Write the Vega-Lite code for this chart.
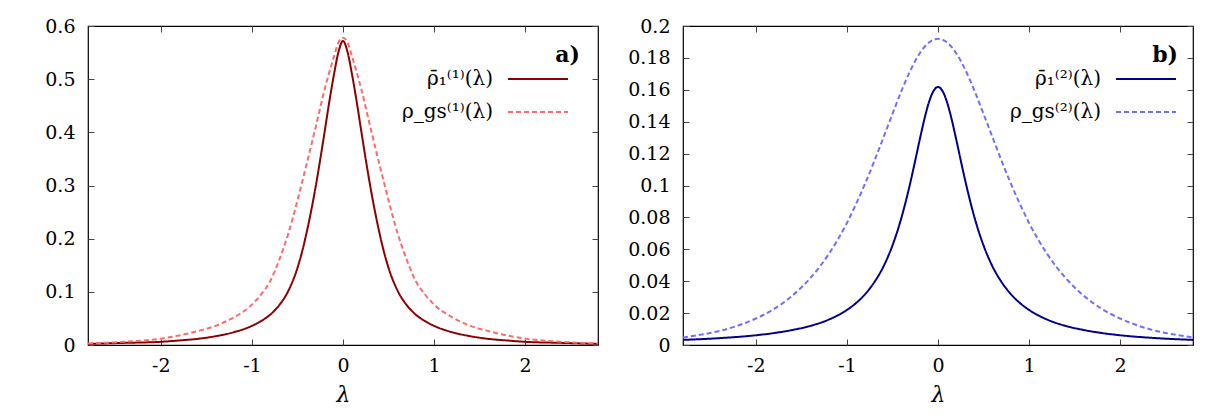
{
  "$schema": "https://vega.github.io/schema/vega-lite/v6.json",
  "autosize": {"type": "pad"},
  "padding": {"left": 44, "top": 16, "right": 5, "bottom": 5},
  "background": "white",
  "config": {
    "font": "DejaVu Serif",
    "view": {"stroke": "black", "strokeWidth": 1.2},
    "axis": {"grid": false, "domain": false, "tickColor": "#444", "tickSize": -6, "tickWidth": 1},
    "title": {"font": "DejaVu Serif", "fontSize": 22, "fontWeight": "bold", "color": "black", "anchor": "end", "frame": "group"}
  },
  "bounds": "flush",
  "spacing": 85,
  "resolve": {"scale": {"color": "independent", "strokeDash": "independent"}},
  "hconcat": [
    {
      "width": 510,
      "height": 319,
      "title": {"text": "a)", "offset": -50, "dx": -18},
      "data": {"values": [
        {"s": "ρ̄₁⁽¹⁾(λ)", "l": -2.8, "r": 0.002}, {"s": "ρ̄₁⁽¹⁾(λ)", "l": -2.4, "r": 0.004}, {"s": "ρ̄₁⁽¹⁾(λ)", "l": -2.0, "r": 0.006}, {"s": "ρ̄₁⁽¹⁾(λ)", "l": -1.8, "r": 0.0085}, {"s": "ρ̄₁⁽¹⁾(λ)", "l": -1.6, "r": 0.0115}, {"s": "ρ̄₁⁽¹⁾(λ)", "l": -1.4, "r": 0.0165}, {"s": "ρ̄₁⁽¹⁾(λ)", "l": -1.2, "r": 0.024}, {"s": "ρ̄₁⁽¹⁾(λ)", "l": -1.0, "r": 0.036}, {"s": "ρ̄₁⁽¹⁾(λ)", "l": -0.9, "r": 0.045}, {"s": "ρ̄₁⁽¹⁾(λ)", "l": -0.8, "r": 0.057}, {"s": "ρ̄₁⁽¹⁾(λ)", "l": -0.7, "r": 0.075}, {"s": "ρ̄₁⁽¹⁾(λ)", "l": -0.6, "r": 0.102}, {"s": "ρ̄₁⁽¹⁾(λ)", "l": -0.5, "r": 0.145}, {"s": "ρ̄₁⁽¹⁾(λ)", "l": -0.45, "r": 0.175}, {"s": "ρ̄₁⁽¹⁾(λ)", "l": -0.4, "r": 0.211}, {"s": "ρ̄₁⁽¹⁾(λ)", "l": -0.35, "r": 0.252}, {"s": "ρ̄₁⁽¹⁾(λ)", "l": -0.3, "r": 0.298}, {"s": "ρ̄₁⁽¹⁾(λ)", "l": -0.25, "r": 0.349}, {"s": "ρ̄₁⁽¹⁾(λ)", "l": -0.2, "r": 0.403}, {"s": "ρ̄₁⁽¹⁾(λ)", "l": -0.15, "r": 0.458}, {"s": "ρ̄₁⁽¹⁾(λ)", "l": -0.1, "r": 0.508}, {"s": "ρ̄₁⁽¹⁾(λ)", "l": -0.05, "r": 0.551}, {"s": "ρ̄₁⁽¹⁾(λ)", "l": 0, "r": 0.572}, {"s": "ρ̄₁⁽¹⁾(λ)", "l": 0.05, "r": 0.551}, {"s": "ρ̄₁⁽¹⁾(λ)", "l": 0.1, "r": 0.508}, {"s": "ρ̄₁⁽¹⁾(λ)", "l": 0.15, "r": 0.458}, {"s": "ρ̄₁⁽¹⁾(λ)", "l": 0.2, "r": 0.403}, {"s": "ρ̄₁⁽¹⁾(λ)", "l": 0.25, "r": 0.349}, {"s": "ρ̄₁⁽¹⁾(λ)", "l": 0.3, "r": 0.298}, {"s": "ρ̄₁⁽¹⁾(λ)", "l": 0.35, "r": 0.252}, {"s": "ρ̄₁⁽¹⁾(λ)", "l": 0.4, "r": 0.211}, {"s": "ρ̄₁⁽¹⁾(λ)", "l": 0.45, "r": 0.175}, {"s": "ρ̄₁⁽¹⁾(λ)", "l": 0.5, "r": 0.145}, {"s": "ρ̄₁⁽¹⁾(λ)", "l": 0.6, "r": 0.102}, {"s": "ρ̄₁⁽¹⁾(λ)", "l": 0.7, "r": 0.075}, {"s": "ρ̄₁⁽¹⁾(λ)", "l": 0.8, "r": 0.057}, {"s": "ρ̄₁⁽¹⁾(λ)", "l": 0.9, "r": 0.045}, {"s": "ρ̄₁⁽¹⁾(λ)", "l": 1.0, "r": 0.036}, {"s": "ρ̄₁⁽¹⁾(λ)", "l": 1.2, "r": 0.024}, {"s": "ρ̄₁⁽¹⁾(λ)", "l": 1.4, "r": 0.0165}, {"s": "ρ̄₁⁽¹⁾(λ)", "l": 1.6, "r": 0.0115}, {"s": "ρ̄₁⁽¹⁾(λ)", "l": 1.8, "r": 0.0085}, {"s": "ρ̄₁⁽¹⁾(λ)", "l": 2.0, "r": 0.006}, {"s": "ρ̄₁⁽¹⁾(λ)", "l": 2.4, "r": 0.004}, {"s": "ρ̄₁⁽¹⁾(λ)", "l": 2.8, "r": 0.002},
        {"s": "ρ_gs⁽¹⁾(λ)", "l": -2.8, "r": 0.003}, {"s": "ρ_gs⁽¹⁾(λ)", "l": -2.4, "r": 0.006}, {"s": "ρ_gs⁽¹⁾(λ)", "l": -2.0, "r": 0.012}, {"s": "ρ_gs⁽¹⁾(λ)", "l": -1.8, "r": 0.018}, {"s": "ρ_gs⁽¹⁾(λ)", "l": -1.6, "r": 0.026}, {"s": "ρ_gs⁽¹⁾(λ)", "l": -1.4, "r": 0.036}, {"s": "ρ_gs⁽¹⁾(λ)", "l": -1.2, "r": 0.052}, {"s": "ρ_gs⁽¹⁾(λ)", "l": -1.0, "r": 0.076}, {"s": "ρ_gs⁽¹⁾(λ)", "l": -0.9, "r": 0.095}, {"s": "ρ_gs⁽¹⁾(λ)", "l": -0.8, "r": 0.120}, {"s": "ρ_gs⁽¹⁾(λ)", "l": -0.7, "r": 0.160}, {"s": "ρ_gs⁽¹⁾(λ)", "l": -0.6, "r": 0.210}, {"s": "ρ_gs⁽¹⁾(λ)", "l": -0.5, "r": 0.272}, {"s": "ρ_gs⁽¹⁾(λ)", "l": -0.4, "r": 0.340}, {"s": "ρ_gs⁽¹⁾(λ)", "l": -0.3, "r": 0.410}, {"s": "ρ_gs⁽¹⁾(λ)", "l": -0.2, "r": 0.482}, {"s": "ρ_gs⁽¹⁾(λ)", "l": -0.1, "r": 0.542}, {"s": "ρ_gs⁽¹⁾(λ)", "l": -0.05, "r": 0.569}, {"s": "ρ_gs⁽¹⁾(λ)", "l": 0, "r": 0.578}, {"s": "ρ_gs⁽¹⁾(λ)", "l": 0.05, "r": 0.569}, {"s": "ρ_gs⁽¹⁾(λ)", "l": 0.1, "r": 0.542}, {"s": "ρ_gs⁽¹⁾(λ)", "l": 0.2, "r": 0.482}, {"s": "ρ_gs⁽¹⁾(λ)", "l": 0.3, "r": 0.410}, {"s": "ρ_gs⁽¹⁾(λ)", "l": 0.4, "r": 0.340}, {"s": "ρ_gs⁽¹⁾(λ)", "l": 0.5, "r": 0.272}, {"s": "ρ_gs⁽¹⁾(λ)", "l": 0.6, "r": 0.210}, {"s": "ρ_gs⁽¹⁾(λ)", "l": 0.7, "r": 0.160}, {"s": "ρ_gs⁽¹⁾(λ)", "l": 0.8, "r": 0.120}, {"s": "ρ_gs⁽¹⁾(λ)", "l": 0.9, "r": 0.095}, {"s": "ρ_gs⁽¹⁾(λ)", "l": 1.0, "r": 0.076}, {"s": "ρ_gs⁽¹⁾(λ)", "l": 1.2, "r": 0.052}, {"s": "ρ_gs⁽¹⁾(λ)", "l": 1.4, "r": 0.036}, {"s": "ρ_gs⁽¹⁾(λ)", "l": 1.6, "r": 0.026}, {"s": "ρ_gs⁽¹⁾(λ)", "l": 1.8, "r": 0.018}, {"s": "ρ_gs⁽¹⁾(λ)", "l": 2.0, "r": 0.012}, {"s": "ρ_gs⁽¹⁾(λ)", "l": 2.4, "r": 0.006}, {"s": "ρ_gs⁽¹⁾(λ)", "l": 2.8, "r": 0.003}
      ]},
      "layer": [
        {
          "mark": {"type": "line", "interpolate": "monotone", "strokeWidth": 2},
          "encoding": {
            "x": {"field": "l", "type": "quantitative", "scale": {"domain": [-2.8, 2.8], "nice": false, "zero": false}, "axis": {"title": "λ", "values": [-2, -1, 0, 1, 2], "labelExpr": "replace(datum.label, '−', '-')", "labelPadding": 17, "titlePadding": 9, "labelFont": "DejaVu Serif", "labelFontSize": 19, "labelColor": "black", "titleFont": "DejaVu Serif", "titleFontSize": 22, "titleFontWeight": "normal", "titleFontStyle": "italic", "titleColor": "black"}},
            "y": {"field": "r", "type": "quantitative", "scale": {"domain": [0, 0.6], "nice": false}, "axis": {"title": null, "values": [0, 0.1, 0.2, 0.3, 0.4, 0.5, 0.6], "format": "~g", "labelPadding": 19, "labelFont": "DejaVu Serif", "labelFontSize": 19, "labelColor": "black"}},
            "color": {"field": "s", "type": "nominal", "scale": {"domain": ["ρ̄₁⁽¹⁾(λ)", "ρ_gs⁽¹⁾(λ)"], "range": ["#8b0000", "#ff6b6b"]}, "legend": {"orient": "none", "legendX": 439, "legendY": 42, "title": null, "symbolType": "M-3,0H3", "symbolSize": 400, "symbolStrokeWidth": 2, "labelFont": "DejaVu Serif", "labelFontSize": 20, "labelColor": "black", "labelAlign": "right", "labelOffset": -56, "rowPadding": 12}},
            "strokeDash": {"field": "s", "type": "nominal", "scale": {"domain": ["ρ̄₁⁽¹⁾(λ)", "ρ_gs⁽¹⁾(λ)"], "range": [[1, 0], [5, 3]]}, "legend": {"orient": "none", "legendX": 439, "legendY": 42, "title": null, "symbolType": "M-3,0H3", "symbolSize": 400, "symbolStrokeWidth": 2, "labelFont": "DejaVu Serif", "labelFontSize": 20, "labelColor": "black", "labelAlign": "right", "labelOffset": -56, "rowPadding": 12}}
          }
        },
        {
          "mark": {"type": "line", "opacity": 0},
          "encoding": {
            "x": {"field": "l", "type": "quantitative", "axis": {"orient": "top", "labels": false, "title": null, "values": [-2, -1, 0, 1, 2]}},
            "y": {"field": "r", "type": "quantitative", "axis": {"orient": "right", "labels": false, "title": null, "values": [0, 0.1, 0.2, 0.3, 0.4, 0.5, 0.6]}}
          }
        }
      ],
      "resolve": {"axis": {"x": "independent", "y": "independent"}}
    },
    {
      "width": 510,
      "height": 319,
      "title": {"text": "b)", "offset": -50, "dx": -15},
      "data": {"values": [
        {"s": "ρ̄₁⁽²⁾(λ)", "l": -2.8, "r": 0.0032}, {"s": "ρ̄₁⁽²⁾(λ)", "l": -2.4, "r": 0.0043}, {"s": "ρ̄₁⁽²⁾(λ)", "l": -2.0, "r": 0.0061}, {"s": "ρ̄₁⁽²⁾(λ)", "l": -1.8, "r": 0.0075}, {"s": "ρ̄₁⁽²⁾(λ)", "l": -1.6, "r": 0.0094}, {"s": "ρ̄₁⁽²⁾(λ)", "l": -1.4, "r": 0.012}, {"s": "ρ̄₁⁽²⁾(λ)", "l": -1.2, "r": 0.0159}, {"s": "ρ̄₁⁽²⁾(λ)", "l": -1.0, "r": 0.022}, {"s": "ρ̄₁⁽²⁾(λ)", "l": -0.9, "r": 0.0263}, {"s": "ρ̄₁⁽²⁾(λ)", "l": -0.8, "r": 0.0319}, {"s": "ρ̄₁⁽²⁾(λ)", "l": -0.7, "r": 0.0393}, {"s": "ρ̄₁⁽²⁾(λ)", "l": -0.6, "r": 0.0491}, {"s": "ρ̄₁⁽²⁾(λ)", "l": -0.5, "r": 0.0624}, {"s": "ρ̄₁⁽²⁾(λ)", "l": -0.4, "r": 0.0801}, {"s": "ρ̄₁⁽²⁾(λ)", "l": -0.35, "r": 0.0909}, {"s": "ρ̄₁⁽²⁾(λ)", "l": -0.3, "r": 0.1028}, {"s": "ρ̄₁⁽²⁾(λ)", "l": -0.25, "r": 0.1157}, {"s": "ρ̄₁⁽²⁾(λ)", "l": -0.2, "r": 0.1289}, {"s": "ρ̄₁⁽²⁾(λ)", "l": -0.15, "r": 0.1415}, {"s": "ρ̄₁⁽²⁾(λ)", "l": -0.1, "r": 0.1521}, {"s": "ρ̄₁⁽²⁾(λ)", "l": -0.05, "r": 0.1592}, {"s": "ρ̄₁⁽²⁾(λ)", "l": 0, "r": 0.1618}, {"s": "ρ̄₁⁽²⁾(λ)", "l": 0.05, "r": 0.1592}, {"s": "ρ̄₁⁽²⁾(λ)", "l": 0.1, "r": 0.1521}, {"s": "ρ̄₁⁽²⁾(λ)", "l": 0.15, "r": 0.1415}, {"s": "ρ̄₁⁽²⁾(λ)", "l": 0.2, "r": 0.1289}, {"s": "ρ̄₁⁽²⁾(λ)", "l": 0.25, "r": 0.1157}, {"s": "ρ̄₁⁽²⁾(λ)", "l": 0.3, "r": 0.1028}, {"s": "ρ̄₁⁽²⁾(λ)", "l": 0.35, "r": 0.0909}, {"s": "ρ̄₁⁽²⁾(λ)", "l": 0.4, "r": 0.0801}, {"s": "ρ̄₁⁽²⁾(λ)", "l": 0.5, "r": 0.0624}, {"s": "ρ̄₁⁽²⁾(λ)", "l": 0.6, "r": 0.0491}, {"s": "ρ̄₁⁽²⁾(λ)", "l": 0.7, "r": 0.0393}, {"s": "ρ̄₁⁽²⁾(λ)", "l": 0.8, "r": 0.0319}, {"s": "ρ̄₁⁽²⁾(λ)", "l": 0.9, "r": 0.0263}, {"s": "ρ̄₁⁽²⁾(λ)", "l": 1.0, "r": 0.022}, {"s": "ρ̄₁⁽²⁾(λ)", "l": 1.2, "r": 0.0159}, {"s": "ρ̄₁⁽²⁾(λ)", "l": 1.4, "r": 0.012}, {"s": "ρ̄₁⁽²⁾(λ)", "l": 1.6, "r": 0.0094}, {"s": "ρ̄₁⁽²⁾(λ)", "l": 1.8, "r": 0.0075}, {"s": "ρ̄₁⁽²⁾(λ)", "l": 2.0, "r": 0.0061}, {"s": "ρ̄₁⁽²⁾(λ)", "l": 2.4, "r": 0.0043}, {"s": "ρ̄₁⁽²⁾(λ)", "l": 2.8, "r": 0.0032},
        {"s": "ρ_gs⁽²⁾(λ)", "l": -2.8, "r": 0.0047}, {"s": "ρ_gs⁽²⁾(λ)", "l": -2.6, "r": 0.0065}, {"s": "ρ_gs⁽²⁾(λ)", "l": -2.4, "r": 0.0088}, {"s": "ρ_gs⁽²⁾(λ)", "l": -2.2, "r": 0.0121}, {"s": "ρ_gs⁽²⁾(λ)", "l": -2.0, "r": 0.0166}, {"s": "ρ_gs⁽²⁾(λ)", "l": -1.8, "r": 0.0226}, {"s": "ρ_gs⁽²⁾(λ)", "l": -1.6, "r": 0.0309}, {"s": "ρ_gs⁽²⁾(λ)", "l": -1.4, "r": 0.0421}, {"s": "ρ_gs⁽²⁾(λ)", "l": -1.2, "r": 0.057}, {"s": "ρ_gs⁽²⁾(λ)", "l": -1.0, "r": 0.0765}, {"s": "ρ_gs⁽²⁾(λ)", "l": -0.9, "r": 0.0884}, {"s": "ρ_gs⁽²⁾(λ)", "l": -0.8, "r": 0.1012}, {"s": "ρ_gs⁽²⁾(λ)", "l": -0.7, "r": 0.1152}, {"s": "ρ_gs⁽²⁾(λ)", "l": -0.6, "r": 0.13}, {"s": "ρ_gs⁽²⁾(λ)", "l": -0.5, "r": 0.1449}, {"s": "ρ_gs⁽²⁾(λ)", "l": -0.4, "r": 0.1595}, {"s": "ρ_gs⁽²⁾(λ)", "l": -0.3, "r": 0.1725}, {"s": "ρ_gs⁽²⁾(λ)", "l": -0.2, "r": 0.1829}, {"s": "ρ_gs⁽²⁾(λ)", "l": -0.1, "r": 0.1897}, {"s": "ρ_gs⁽²⁾(λ)", "l": 0, "r": 0.192}, {"s": "ρ_gs⁽²⁾(λ)", "l": 0.1, "r": 0.1897}, {"s": "ρ_gs⁽²⁾(λ)", "l": 0.2, "r": 0.1829}, {"s": "ρ_gs⁽²⁾(λ)", "l": 0.3, "r": 0.1725}, {"s": "ρ_gs⁽²⁾(λ)", "l": 0.4, "r": 0.1595}, {"s": "ρ_gs⁽²⁾(λ)", "l": 0.5, "r": 0.1449}, {"s": "ρ_gs⁽²⁾(λ)", "l": 0.6, "r": 0.13}, {"s": "ρ_gs⁽²⁾(λ)", "l": 0.7, "r": 0.1152}, {"s": "ρ_gs⁽²⁾(λ)", "l": 0.8, "r": 0.1012}, {"s": "ρ_gs⁽²⁾(λ)", "l": 0.9, "r": 0.0884}, {"s": "ρ_gs⁽²⁾(λ)", "l": 1.0, "r": 0.0765}, {"s": "ρ_gs⁽²⁾(λ)", "l": 1.2, "r": 0.057}, {"s": "ρ_gs⁽²⁾(λ)", "l": 1.4, "r": 0.0421}, {"s": "ρ_gs⁽²⁾(λ)", "l": 1.6, "r": 0.0309}, {"s": "ρ_gs⁽²⁾(λ)", "l": 1.8, "r": 0.0226}, {"s": "ρ_gs⁽²⁾(λ)", "l": 2.0, "r": 0.0166}, {"s": "ρ_gs⁽²⁾(λ)", "l": 2.2, "r": 0.0121}, {"s": "ρ_gs⁽²⁾(λ)", "l": 2.4, "r": 0.0088}, {"s": "ρ_gs⁽²⁾(λ)", "l": 2.6, "r": 0.0065}, {"s": "ρ_gs⁽²⁾(λ)", "l": 2.8, "r": 0.0047}
      ]},
      "layer": [
        {
          "mark": {"type": "line", "interpolate": "monotone", "strokeWidth": 2},
          "encoding": {
            "x": {"field": "l", "type": "quantitative", "scale": {"domain": [-2.8, 2.8], "nice": false, "zero": false}, "axis": {"title": "λ", "values": [-2, -1, 0, 1, 2], "labelExpr": "replace(datum.label, '−', '-')", "labelPadding": 17, "titlePadding": 9, "labelFont": "DejaVu Serif", "labelFontSize": 19, "labelColor": "black", "titleFont": "DejaVu Serif", "titleFontSize": 22, "titleFontWeight": "normal", "titleFontStyle": "italic", "titleColor": "black"}},
            "y": {"field": "r", "type": "quantitative", "scale": {"domain": [0, 0.2], "nice": false}, "axis": {"title": null, "values": [0, 0.02, 0.04, 0.06, 0.08, 0.1, 0.12, 0.14, 0.16, 0.18, 0.2], "format": "~g", "labelPadding": 19, "labelFont": "DejaVu Serif", "labelFontSize": 19, "labelColor": "black"}},
            "color": {"field": "s", "type": "nominal", "scale": {"domain": ["ρ̄₁⁽²⁾(λ)", "ρ_gs⁽²⁾(λ)"], "range": ["#00008b", "#7070ff"]}, "legend": {"orient": "none", "legendX": 452, "legendY": 42, "title": null, "symbolType": "M-3,0H3", "symbolSize": 400, "symbolStrokeWidth": 2, "labelFont": "DejaVu Serif", "labelFontSize": 20, "labelColor": "black", "labelAlign": "right", "labelOffset": -56, "rowPadding": 12}},
            "strokeDash": {"field": "s", "type": "nominal", "scale": {"domain": ["ρ̄₁⁽²⁾(λ)", "ρ_gs⁽²⁾(λ)"], "range": [[1, 0], [5, 3]]}, "legend": {"orient": "none", "legendX": 452, "legendY": 42, "title": null, "symbolType": "M-3,0H3", "symbolSize": 400, "symbolStrokeWidth": 2, "labelFont": "DejaVu Serif", "labelFontSize": 20, "labelColor": "black", "labelAlign": "right", "labelOffset": -56, "rowPadding": 12}}
          }
        },
        {
          "mark": {"type": "line", "opacity": 0},
          "encoding": {
            "x": {"field": "l", "type": "quantitative", "axis": {"orient": "top", "labels": false, "title": null, "values": [-2, -1, 0, 1, 2]}},
            "y": {"field": "r", "type": "quantitative", "axis": {"orient": "right", "labels": false, "title": null, "values": [0, 0.02, 0.04, 0.06, 0.08, 0.1, 0.12, 0.14, 0.16, 0.18, 0.2]}}
          }
        }
      ],
      "resolve": {"axis": {"x": "independent", "y": "independent"}}
    }
  ]
}
